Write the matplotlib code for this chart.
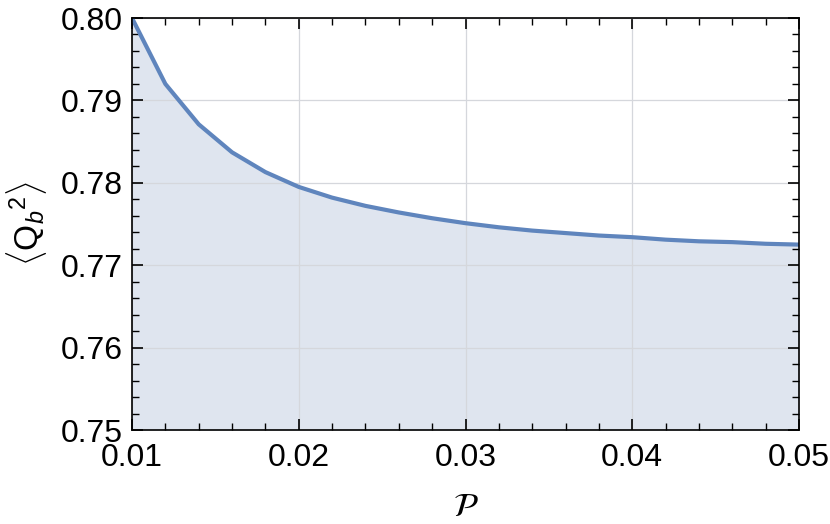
import matplotlib
matplotlib.use("Agg")
import matplotlib.pyplot as plt
from matplotlib.ticker import MultipleLocator

plt.rcParams['font.family'] = ['Liberation Sans', 'DejaVu Sans']
plt.rcParams['mathtext.fontset'] = 'custom'
plt.rcParams['mathtext.rm'] = 'Liberation Sans'
plt.rcParams['mathtext.it'] = 'Liberation Sans:italic'

# values
p = [0.010, 0.012, 0.014, 0.016, 0.018, 0.020, 0.022, 0.024, 0.026, 0.028, 0.030,
     0.032, 0.034, 0.036, 0.038, 0.040, 0.042, 0.044, 0.046, 0.048, 0.050]
q2 = [0.8000, 0.7920, 0.7871, 0.7837, 0.7813, 0.7795, 0.7782, 0.7772, 0.7764, 0.7757, 0.7751,
      0.7746, 0.7742, 0.7739, 0.7736, 0.7734, 0.7731, 0.7729, 0.7728, 0.7726, 0.7725]

line_col = '#5f85bd'
fill_col = '#dfe5ef'

fig = plt.figure(figsize=(8.3, 5.24), dpi=100)
ax = fig.add_axes([132 / 830, 1 - 430 / 524, 667 / 830, 412 / 524])

ax.fill_between(p, 0.75, q2, color=fill_col, lw=0, zorder=1)
ax.plot(p, q2, color=line_col, lw=3, zorder=3)

ax.set_xlim(0.01, 0.05)
ax.set_ylim(0.75, 0.80)
ax.xaxis.set_major_locator(MultipleLocator(0.01))
ax.xaxis.set_minor_locator(MultipleLocator(0.002))
ax.yaxis.set_major_locator(MultipleLocator(0.01))
ax.yaxis.set_minor_locator(MultipleLocator(0.002))
ax.set_xticklabels([f'{v:.2f}' for v in ax.get_xticks()])
ax.set_yticklabels([f'{v:.2f}' for v in ax.get_yticks()])

ax.grid(which='major', color='#d5d7dc', lw=0.9, zorder=2)
ax.set_axisbelow(False)
for s in ax.spines.values():
    s.set_linewidth(1.2)
    s.set_zorder(4)

ax.tick_params(which='both', direction='in', top=True, right=True, labelsize=23)
ax.tick_params(axis='x', pad=9)
ax.tick_params(axis='y', pad=7)
ax.tick_params(which='major', length=8, width=1.2)
ax.tick_params(which='minor', length=5, width=1.0)

ax.set_xlabel(r'$\mathcal{P}$', fontsize=24, labelpad=14, math_fontfamily='stix')
ax.set_ylabel(r'$\langle \mathrm{Q}_b{}^2\rangle$', fontsize=24, labelpad=8)

fig.savefig('out.png', dpi=100)
